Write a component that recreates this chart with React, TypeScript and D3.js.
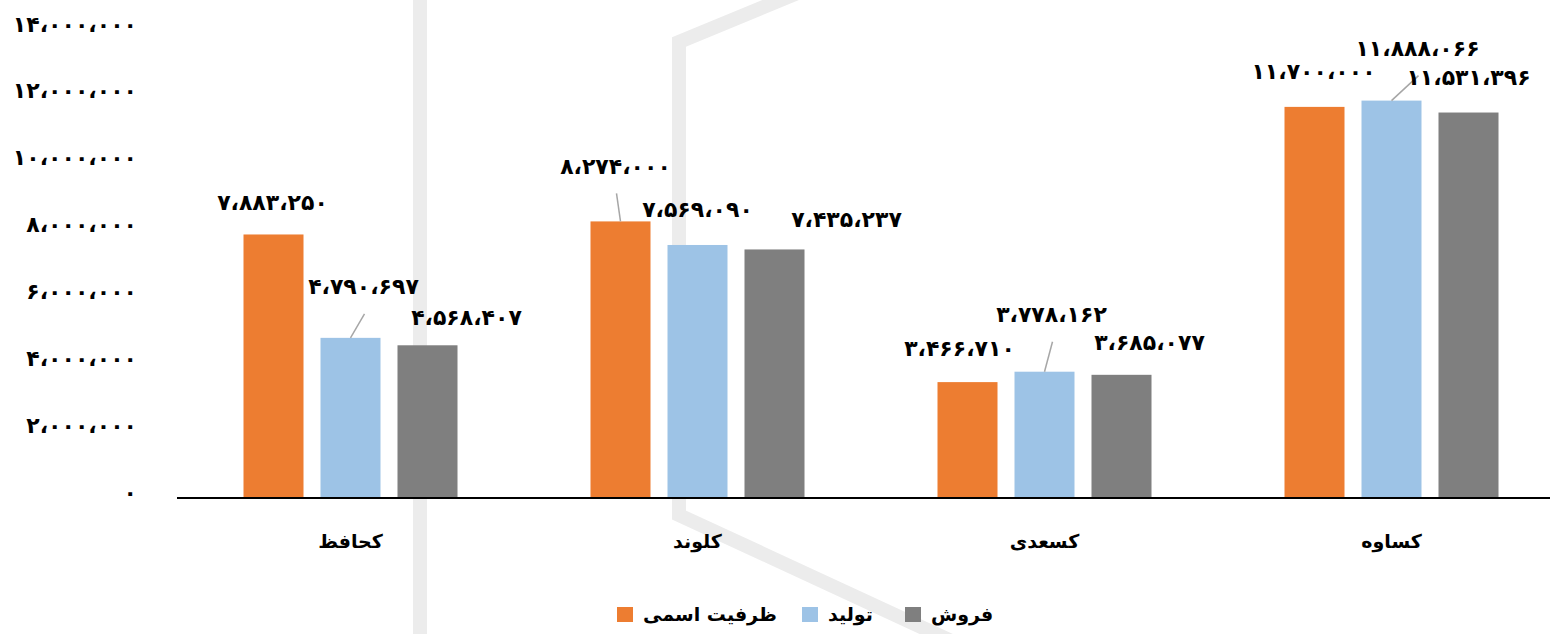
import { useEffect, useRef } from "react";
import * as d3 from "d3";

const categories = ["کحافظ", "کلوند", "کسعدی", "کساوه"];
const seriesNames = ["ظرفیت اسمی", "تولید", "فروش"];
const nominalCapacity = [7883250, 8274000, 3466710, 11700000];
const production = [4790697, 7569090, 3778162, 11888066];
const sales = [4568407, 7435237, 3685077, 11531396];
const yTicks = [0, 2000000, 4000000, 6000000, 8000000, 10000000, 12000000, 14000000];

const seriesValues = [nominalCapacity, production, sales];
const colors = ["#ED7D31", "#9DC3E6", "#7F7F7F"];

// manual label nudges (dx, dy from bar top centre), as in the source chart
const labelNudges: [number, number, boolean][][] = [
  [[-1, -32, false], [-5, -55, true], [-8, -34, false], [-1, -35, false]],
  [[13, -51, true], [0, -35, false], [7, -57, true], [26, -52, true]],
  [[39, -28, false], [72, -30, false], [28, -32, false], [0, -35, false]],
];

const W = 1550;
const H = 634;
const FONT = "'DejaVu Sans', sans-serif";
const NUM_SIZE = 22;
const TEXT_SIZE = 19;

const faDigits = "۰۱۲۳۴۵۶۷۸۹";
const toPersian = (v: number) =>
  d3.format(",")(v).replace(/\d/g, (d) => faDigits[+d]).replace(/,/g, "،");

export default function App() {
  const svgRef = useRef<SVGSVGElement>(null);

  useEffect(() => {
    if (!svgRef.current) return;
    const svg = d3.select(svgRef.current);
    svg.selectAll("*").remove();

    const margin = { left: 177, right: -15, top: 30, bottom: 136 };

    const x0 = d3.scaleBand<string>()
      .domain(categories)
      .range([margin.left, W - margin.right]);

    const x1 = d3.scaleBand<number>()
      .domain([0, 1, 2])
      .range([-107, 107])
      .paddingInner(0.2208);

    const y = d3.scaleLinear()
      .domain([0, 14000000])
      .range([H - margin.bottom, margin.top]);

    // watermark
    const wm = svg.append("g")
      .attr("fill", "none")
      .attr("stroke", "#ececec")
      .attr("stroke-width", 14);
    wm.append("line")
      .attr("x1", 420).attr("x2", 420)
      .attr("y1", 0).attr("y2", H);
    wm.append("path")
      .attr("stroke-linejoin", "miter")
      .attr("d", d3.line()([[800, -8], [679, 42], [679, 515], [960, 645]]));

    // y tick labels
    svg.append("g")
      .selectAll("text")
      .data(yTicks)
      .join("text")
      .attr("x", 137)
      .attr("y", (d) => y(d) - 6)
      .attr("text-anchor", "end")
      .attr("dominant-baseline", "central")
      .attr("font-family", FONT)
      .attr("font-weight", "bold")
      .attr("font-size", NUM_SIZE)
      .attr("fill", "#000")
      .text((d) => toPersian(d));

    // bars
    seriesValues.forEach((vals, s) => {
      svg.append("g")
        .selectAll("rect")
        .data(vals)
        .join("rect")
        .attr("x", (d, i) => x0(categories[i])! + x0.bandwidth() / 2 + x1(s)!)
        .attr("y", (d) => y(d))
        .attr("width", x1.bandwidth())
        .attr("height", (d) => y(0) - y(d))
        .attr("fill", colors[s]);
    });

    // axis line
    svg.append("line")
      .attr("x1", margin.left)
      .attr("x2", W)
      .attr("y1", y(0))
      .attr("y2", y(0))
      .attr("stroke", "#000")
      .attr("stroke-width", 2);

    // data labels + leader lines
    seriesValues.forEach((vals, s) => {
      vals.forEach((v, i) => {
        const bx = x0(categories[i])! + x0.bandwidth() / 2 + x1(s)! + x1.bandwidth() / 2;
        const by = y(v);
        const [dx, dy, leader] = labelNudges[s][i];
        if (leader) {
          svg.append("line")
            .attr("x1", bx)
            .attr("y1", by)
            .attr("x2", bx + dx + 1)
            .attr("y2", by + dy + 27)
            .attr("stroke", "#a6a6a6")
            .attr("stroke-width", 1.5);
        }
        svg.append("text")
          .attr("x", bx + dx)
          .attr("y", by + dy)
          .attr("text-anchor", "middle")
          .attr("dominant-baseline", "central")
          .attr("font-family", FONT)
          .attr("font-weight", "bold")
          .attr("font-size", NUM_SIZE)
          .attr("fill", "#000")
          .text(toPersian(v));
      });
    });

    // category labels
    svg.append("g")
      .selectAll("text")
      .data(categories)
      .join("text")
      .attr("x", (d) => x0(d)! + x0.bandwidth() / 2)
      .attr("y", 541)
      .attr("text-anchor", "middle")
      .attr("dominant-baseline", "central")
      .attr("font-family", FONT)
      .attr("font-weight", "bold")
      .attr("font-size", TEXT_SIZE)
      .attr("fill", "#000")
      .text((d) => d);

    // legend
    const legendX = [617, 802, 905];
    const legend = svg.append("g");
    seriesNames.forEach((name, s) => {
      legend.append("rect")
        .attr("x", legendX[s])
        .attr("y", 607)
        .attr("width", 16)
        .attr("height", 15)
        .attr("fill", colors[s]);
      legend.append("text")
        .attr("x", legendX[s] + 26)
        .attr("y", 614)
        .attr("text-anchor", "start")
        .attr("dominant-baseline", "central")
        .attr("font-family", FONT)
        .attr("font-weight", "bold")
        .attr("font-size", TEXT_SIZE)
        .attr("fill", "#000")
        .text(name);
    });
  }, []);

  return (
    <svg
      ref={svgRef}
      width={W}
      height={H}
      style={{ position: "absolute", left: 0, top: 0, display: "block", background: "#fff" }}
    />
  );
}
